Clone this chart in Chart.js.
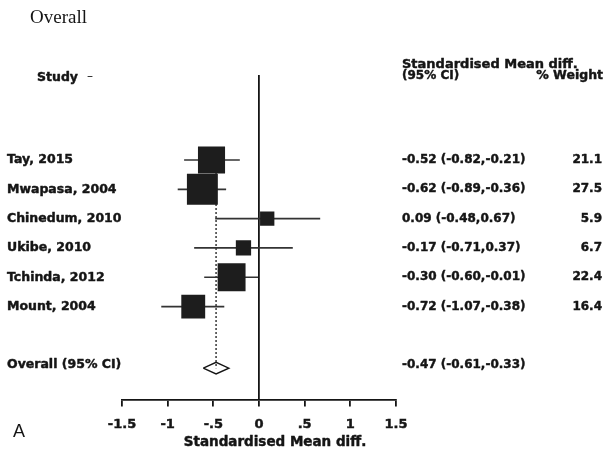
<!DOCTYPE html>
<html>
<head>
<meta charset="utf-8">
<script src="https://cdn.jsdelivr.net/npm/chart.js@4.4.1/dist/chart.umd.min.js"></script>
<style>
  body { margin: 0; background: #fff; }
  #wrap { width: 604px; height: 449px; }
</style>
</head>
<body>
<div id="wrap"><canvas id="forest" width="604" height="449"></canvas></div>
<script>
// forest plot data
var studies = ['Tay, 2015', 'Mwapasa, 2004', 'Chinedum, 2010', 'Ukibe, 2010', 'Tchinda, 2012', 'Mount, 2004'];
var smd = [-0.52, -0.62, 0.09, -0.17, -0.30, -0.72];
var ciLow = [-0.82, -0.89, -0.48, -0.71, -0.60, -1.07];
var ciHigh = [-0.21, -0.36, 0.67, 0.37, -0.01, -0.38];
var weights = [21.1, 27.5, 5.9, 6.7, 22.4, 16.4];

var overallLabel = 'Overall (95% CI)';
var overallEst = -0.47;
var overallLow = -0.61;
var overallHigh = -0.33;

var xTickLabels = ['-1.5', '-1', '-.5', '0', '.5', '1', '1.5'];

// row positions on the y scale
var rows = studies.map(function (s, i) { return i + 1; });
var overallRow = 8.1;
var diamondHalf = 0.2;

var ink = '#151515';
var sans = "'DejaVu Sans', sans-serif";

function fmt(v) { return v.toFixed(2); }

// heavy text: fill + thin stroke, the original uses a black-weight face
function heavy(ctx, txt, x, y) {
  ctx.fillText(txt, x, y);
  ctx.strokeText(txt, x, y);
}

var ciSets = studies.map(function (s, i) {
  return {
    type: 'line',
    data: [{x: ciLow[i], y: rows[i]}, {x: ciHigh[i], y: rows[i]}],
    borderColor: '#333',
    borderWidth: 1.7,
    pointRadius: 0
  };
});

var textPlugin = {
  id: 'forestText',
  afterDraw: function (chart) {
    var ctx = chart.ctx;
    var ys = chart.scales.y;
    ctx.save();
    ctx.fillStyle = ink;
    ctx.strokeStyle = ink;
    ctx.lineWidth = 0.45;
    ctx.lineJoin = 'round';

    // panel title
    ctx.font = "19px 'Liberation Serif', serif";
    ctx.textAlign = 'left';
    ctx.textBaseline = 'alphabetic';
    ctx.fillText('Overall', 30, 23);

    // column headers
    ctx.font = "bold 12.5px " + sans;
    heavy(ctx, 'Study', 37, 81);
    ctx.font = "12px " + sans;
    ctx.fillText('\u2013', 87, 80);
    ctx.font = "bold 13px " + sans;
    heavy(ctx, 'Standardised Mean diff.', 402, 68);
    ctx.font = "bold 12px " + sans;
    heavy(ctx, '(95% CI)', 402, 79);
    ctx.textAlign = 'right';
    ctx.font = "bold 12.5px " + sans;
    heavy(ctx, '% Weight', 603, 79);

    // study rows
    ctx.textBaseline = 'middle';
    studies.forEach(function (s, i) {
      var py = ys.getPixelForValue(rows[i]);
      ctx.textAlign = 'left';
      ctx.font = "bold 12.5px " + sans;
      heavy(ctx, s, 7, py);
      ctx.font = "bold 12px " + sans;
      heavy(ctx, fmt(smd[i]) + ' (' + fmt(ciLow[i]) + ',' + fmt(ciHigh[i]) + ')', 402, py);
      ctx.textAlign = 'right';
      heavy(ctx, weights[i].toFixed(1), 602, py);
    });

    var oy = ys.getPixelForValue(overallRow) - 3;
    ctx.textAlign = 'left';
    ctx.font = "bold 12.5px " + sans;
    heavy(ctx, overallLabel, 7, oy);
    ctx.font = "bold 12px " + sans;
    heavy(ctx, fmt(overallEst) + ' (' + fmt(overallLow) + ',' + fmt(overallHigh) + ')', 402, oy);

    // axis title
    ctx.textAlign = 'center';
    ctx.textBaseline = 'alphabetic';
    ctx.font = "bold 13.5px " + sans;
    heavy(ctx, 'Standardised Mean diff.', 275, 446);

    // panel letter
    ctx.textAlign = 'left';
    ctx.font = "18px 'Liberation Sans', sans-serif";
    ctx.fillText('A', 13, 437);
    ctx.restore();
  }
};

var forest = new Chart(document.getElementById('forest').getContext('2d'), {
  type: 'scatter',
  data: {
    datasets: [{
      data: smd.map(function (v, i) { return {x: v, y: rows[i]}; }),
      pointStyle: 'rect',
      pointRadius: weights.map(function (w) { return 4.17 * Math.sqrt(w); }),
      backgroundColor: '#1d1d1d',
      borderColor: '#1d1d1d',
      borderWidth: 0
    }].concat(ciSets).concat([{
      type: 'line',
      data: [{x: overallEst, y: rows[0]}, {x: overallEst, y: overallRow}],
      borderColor: '#444',
      borderWidth: 1.6,
      borderDash: [2, 2],
      pointRadius: 0
    }, {
      type: 'line',
      data: [
        {x: overallLow, y: overallRow},
        {x: overallEst, y: overallRow - diamondHalf},
        {x: overallHigh, y: overallRow},
        {x: overallEst, y: overallRow + diamondHalf},
        {x: overallLow, y: overallRow}
      ],
      borderColor: ink,
      borderWidth: 1.4,
      pointRadius: 0,
      fill: false
    }])
  },
  options: {
    responsive: false,
    animation: false,
    events: [],
    layout: { padding: { left: 122, right: 208, top: 75, bottom: 0 } },
    plugins: { legend: { display: false }, tooltip: { enabled: false } },
    scales: {
      x: {
        type: 'linear',
        min: -1.5,
        max: 1.5,
        afterFit: function (s) { s.height = 49.5; },
        border: { display: true, color: ink, width: 1.8 },
        grid: {
          color: function (c) { return c.tick && c.tick.value === 0 ? ink : 'rgba(0,0,0,0)'; },
          lineWidth: 1.8,
          tickColor: ink,
          tickWidth: 1.8,
          tickLength: 7
        },
        ticks: {
          stepSize: 0.5,
          padding: 10,
          color: ink,
          textStrokeColor: ink,
          textStrokeWidth: 0.45,
          font: { family: sans, size: 13, weight: 'bold' },
          callback: function (v, i) { return xTickLabels[i]; }
        }
      },
      y: {
        type: 'linear',
        display: false,
        reverse: true,
        min: -1.9,
        max: 9.17
      }
    }
  },
  plugins: [textPlugin]
});
</script>
</body>
</html>
